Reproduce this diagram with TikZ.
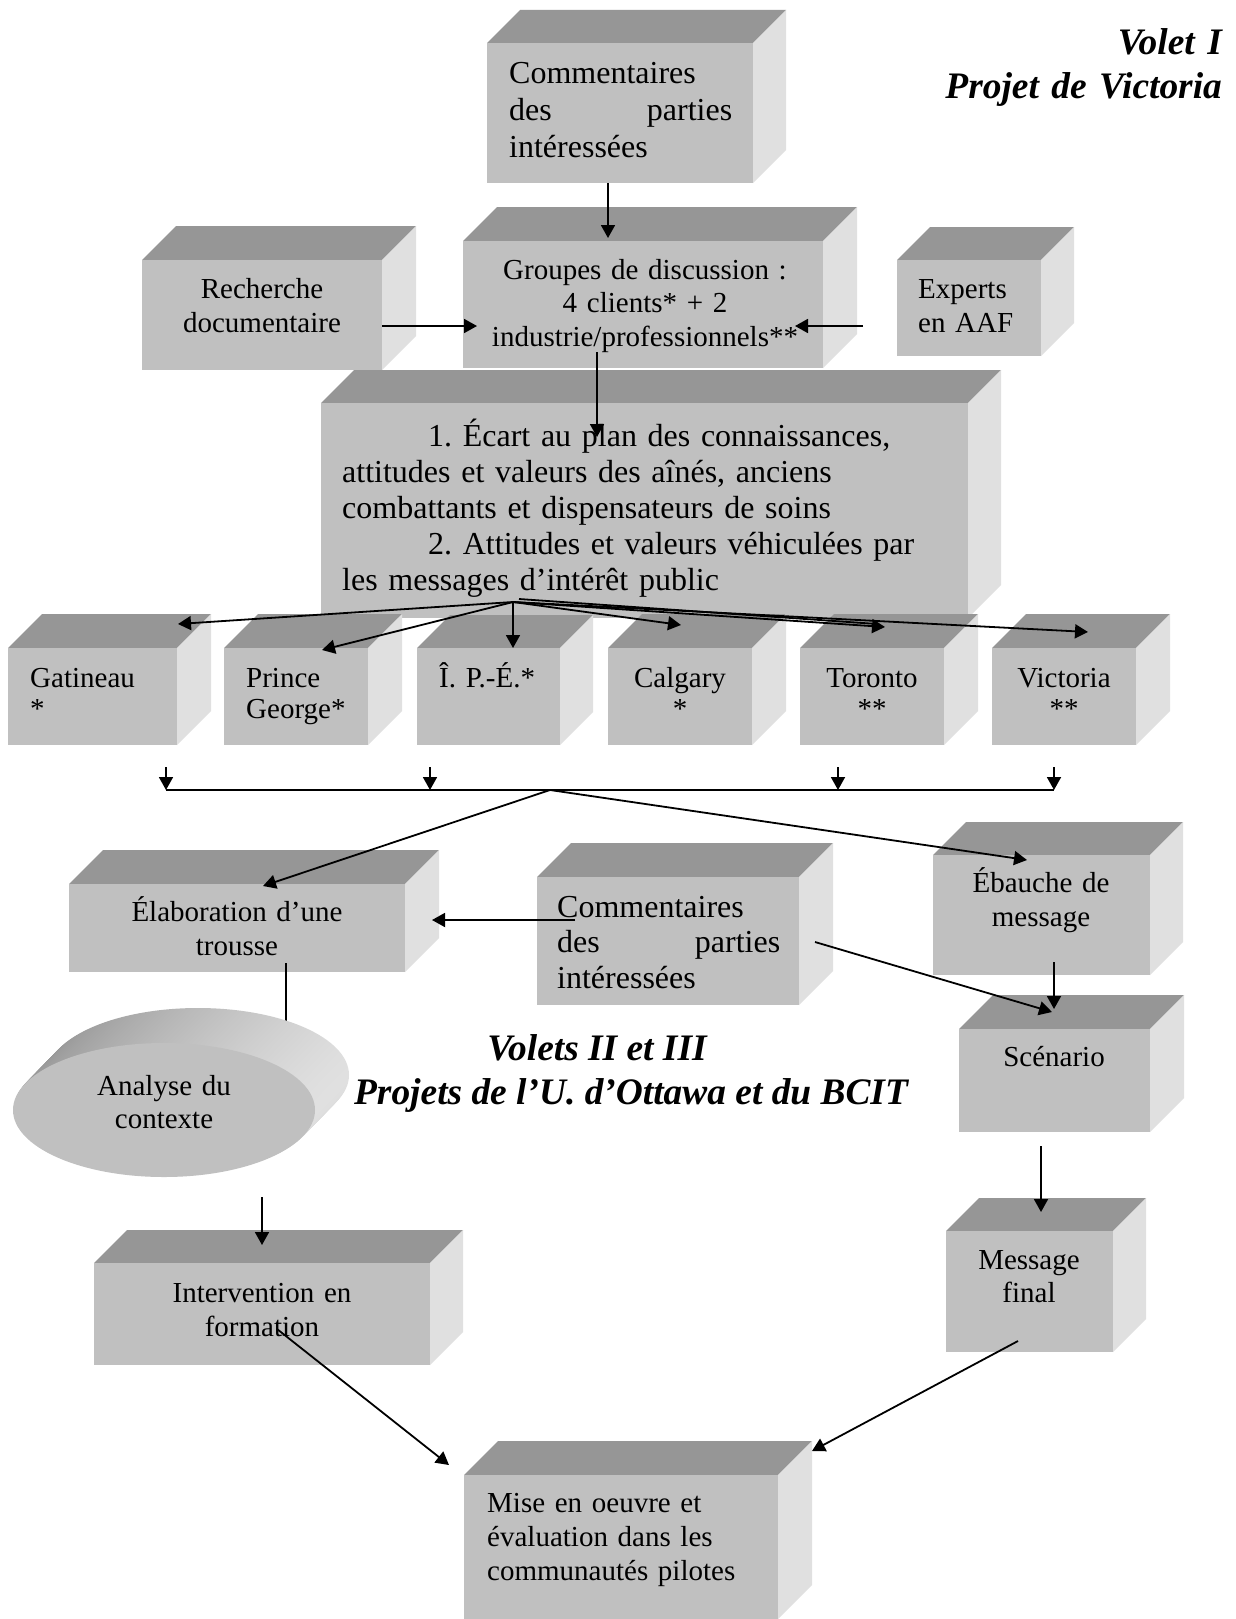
\documentclass[tikz,border=0pt]{standalone}
\usepackage{fontspec}
\setmainfont{Liberation Serif}
\usetikzlibrary{arrows.meta,shapes.geometric,calc}
\definecolor{topc}{RGB}{150,150,150}
\definecolor{frontc}{RGB}{192,192,192}
\definecolor{sidec}{RGB}{224,224,224}
\newcommand{\mycube}[6]{%
  \fill[topc] (#2,#3) -- (#2+#6,#3-#6) -- (#4+#6,#3-#6) -- (#4,#3) -- cycle;
  \fill[sidec] (#4,#3) -- (#4+#6,#3-#6) -- (#4+#6,#5-#6) -- (#4,#5) -- cycle;
  \node[frontface, minimum width=#4-#2, minimum height=#5-#3] (#1) at ({(#2+#4)/2},{(#3+#5)/2}) {};
}
\tikzset{
  frontface/.style={rectangle, fill=frontc, inner sep=0pt, outer sep=0pt},
  ta/.style={font=\fontsize{29}{34}\selectfont, inner sep=0pt},
  tb/.style={font=\fontsize{32}{37}\selectfont, inner sep=0pt},
  ttl/.style={font=\fontsize{37.4}{44}\selectfont\bfseries\itshape, inner sep=0pt},
  conn/.style={line width=1.8pt, -{Triangle[length=13pt,width=14pt]}},
  plainline/.style={line width=1.8pt},
}
\begin{document}
\frenchspacing
\begin{tikzpicture}[x=1pt,y=-1pt]
\useasboundingbox (0,0) rectangle (1235,1619);
\fill[white] (0,0) rectangle (1235,1619);

% ---- boxes ----
\mycube{comm1}{487}{43}{753}{183}{33}
\mycube{recherche}{142}{260}{382}{370}{34}
\mycube{experts}{897}{260}{1041}{356}{33}
\mycube{groupes}{463}{241}{823}{368}{34}
\mycube{big}{321}{403}{968}{618}{33}
\mycube{gat}{8}{648}{177}{745}{34}
\mycube{pg}{224}{648}{368}{745}{34}
\mycube{ipe}{417}{648}{560}{745}{33}
\mycube{cal}{608}{648}{752}{745}{34}
\mycube{tor}{800}{648}{944}{745}{34}
\mycube{vic}{992}{648}{1136}{745}{34}
\mycube{elab}{69}{884}{405}{972}{34}
\mycube{comm2}{537}{877}{799}{1005}{34}
\mycube{eba}{933}{855}{1150}{975}{33}
\mycube{scen}{959}{1029}{1150}{1132}{34}
\mycube{interv}{94}{1263}{430}{1365}{33}
\mycube{msg}{946}{1231}{1113}{1352}{33}
\mycube{mise}{464}{1475}{778}{1619}{34}

% ---- texts in boxes ----
\node[tb, anchor=base west, text width=223pt, align=left] (tcomm1) at (509,83)
  {Commentaires\\ des\hfill parties\\ intéressées};
\node[ta, anchor=base, text width=240pt, align=center] (trech) at (262,298)
  {Recherche\\ documentaire};
\node[ta, anchor=base west, text width=130pt, align=left] (texp) at (918,298)
  {Experts\\ en AAF};
\node[font=\fontsize{29}{33.5}\selectfont, inner sep=0pt, anchor=base, text width=340pt, align=center] (tgrp) at (645,279)
  {Groupes de discussion :\\ 4 clients* + 2\\ industrie/professionnels**};
\node[font=\fontsize{32}{36}\selectfont, inner sep=0pt, anchor=base west, text width=620pt, align=left] (tbig) at (342,446)
  {\hspace*{86pt}1. Écart au plan des connaissances,\\ attitudes et valeurs des aînés, anciens\\ combattants et dispensateurs de soins\\ \hspace*{86pt}2. Attitudes et valeurs véhiculées par\\ les messages d’intérêt public};
\tikzset{city/.style={font=\fontsize{29}{31}\selectfont, inner sep=0pt, text width=140pt}}
\node[city, anchor=base west, align=left] (tgat) at (30,687) {Gatineau\\{*}};
\node[city, anchor=base west, align=left] (tpg) at (246,687) {Prince\\ George*};
\node[city, anchor=base west, align=left] (tipe) at (439,687) {Î. P.-É.*};
\node[city, anchor=base, align=center] (tcal) at (680,687) {Calgary\\{*}};
\node[city, anchor=base, align=center] (ttor) at (872,687) {Toronto\\{**}};
\node[city, anchor=base, align=center] (tvic) at (1064,687) {Victoria\\{**}};
\node[ta, anchor=base, text width=320pt, align=center] (telab) at (237,921)
  {Élaboration d’une\\ trousse};
\node[font=\fontsize{32}{35.5}\selectfont, inner sep=0pt, anchor=base west, text width=223pt, align=left] (tcomm2) at (557,917)
  {Commentaires\\ des\hfill parties\\ intéressées};
\node[ta, anchor=base, text width=210pt, align=center] (teba) at (1041,892)
  {Ébauche de\\ message};
\node[ta, anchor=base, text width=190pt, align=center] (tscen) at (1054,1066) {Scénario};
\node[font=\fontsize{29}{33}\selectfont, inner sep=0pt, anchor=base, text width=165pt, align=center] (tmsg) at (1029,1269)
  {Message\\ final};
\node[ta, anchor=base, text width=330pt, align=center] (tint) at (262,1302)
  {Intervention en\\ formation};
\node[ta, anchor=base west, text width=300pt, align=left] (tmise) at (487,1512)
  {Mise en oeuvre et\\ évaluation dans les\\ communautés pilotes};

% ---- titles ----
\node[ttl, anchor=base east, text width=420pt, align=right] (title1) at (1222,55)
  {Volet I\\ Projet de Victoria};
\node[ttl, anchor=base] (title2a) at (597,1060) {Volets II et III};
\node[ttl, anchor=base] (title2b) at (631,1104) {Projets de l’U. d’Ottawa et du BCIT};

% ---- arrow hidden behind the cylinder ----
\coordinate (anatip) at ($(elab.south)+(49,66)$);
\draw[conn] ($(elab.south)+(49,-9)$) -- (anatip);

% ---- Analyse du contexte (cylinder) ----
\foreach \k in {34,33,...,1} {
  \shade[left color=topc, right color=sidec] ({164+\k},{1110-\k*35/34}) ellipse [x radius=151, y radius=67];
}
\node[ellipse, fill=frontc, minimum width=302pt, minimum height=134pt, inner sep=0pt] (analyse) at (164,1110) {};
\node[font=\fontsize{29}{33}\selectfont, inner sep=0pt, anchor=base, text width=250pt, align=center] (tana) at (164,1095)
  {Analyse du\\ contexte};

% ---- connectors ----
\draw[conn] ($(comm1.south west)+(121,0)$) -- ($(groupes.north west)+(145,-3)$);
\draw[conn] ($(recherche.east)+(0,11)$) -- ($(groupes.west)+(14,21.5)$);
\draw[conn] ($(experts.west)+(-34,18)$) -- ($(groupes.east)+(-28,21.5)$);
\draw[conn] ($(groupes.south)+(-46,-16)$) -- ($(big.north)+(-47.5,34)$);

\coordinate (conv) at ($(big.south)+(-131.5,-16)$);
\draw[conn] (conv) -- ($(gat.north east)+(1,-24)$);
\draw[conn] (conv) -- ($(pg.north)+(26,2)$);
\draw[conn] (conv) -- ($(ipe.north)+(24.5,0)$);
\draw[conn] (conv) -- ($(cal.north)+(1,-23)$);
\draw[conn] (conv) -- ($(tor.north)+(13,-21)$);
\draw[plainline] ($(conv)+(6,-3)$) -- ($(tor.north)+(5,-24)$);
\draw[conn] (conv) -- ($(vic.north)+(24,-16)$);

\coordinate (b1) at (166,790);
\coordinate (b2) at (430,790);
\coordinate (b3) at (838,790);
\coordinate (b4) at (1054,790);
\coordinate (bm) at (550,790);
\draw[conn] ($(gat.south)+(73.5,22)$) -- (b1);
\draw[conn] ($(ipe.south)+(-58.5,22)$) -- (b2);
\draw[conn] ($(tor.south)+(-34,22)$) -- (b3);
\draw[conn] ($(vic.south)+(-10,22)$) -- (b4);
\draw[plainline] (b1) -- (b4);
\draw[conn] (bm) -- ($(elab.north)+(26,2)$);
\draw[conn] (bm) -- ($(eba.north)+(-14.5,5)$);

\draw[conn] ($(comm2.west)+(38,-21)$) -- ($(elab.east)+(27,-8)$);
\draw[conn] ($(comm2.east)+(16,1)$) -- ($(scen.north)+(-2.5,-17)$);
\draw[conn] ($(eba.south)+(12.5,-13)$) -- ($(scen.north)+(-0.5,-20)$);
\draw[conn] ($(scen.south)+(-13.5,14)$) -- ($(msg.north)+(11.5,-19)$);
\draw[conn] ($(analyse.south)+(98,20)$) -- ($(interv.north)+(0,-18)$);
\draw[conn] ($(interv.center)+(15,15)$) -- ($(mise.north west)+(-15,-10)$);
\draw[conn] ($(msg.south)+(-11.5,-11)$) -- ($(mise.north east)+(34,-24)$);
\end{tikzpicture}
\end{document}
